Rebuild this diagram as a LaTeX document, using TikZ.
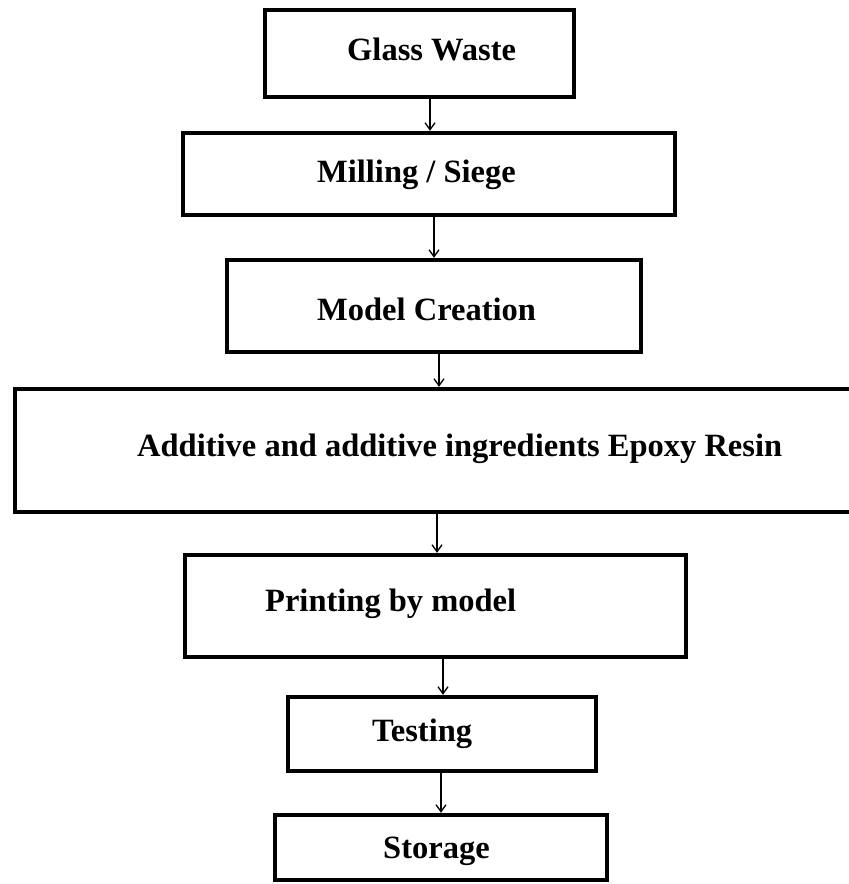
\documentclass[tikz,border=0pt]{standalone}
\usepackage{fontspec}
\setmainfont{Liberation Serif}
\usetikzlibrary{arrows.meta}
\begin{document}
\begin{tikzpicture}[x=1pt,y=-1pt,
  box/.style={draw=black,line width=4.4pt,rectangle,inner sep=0pt,fill=none},
  lbl/.style={anchor=base west,inner sep=0pt,font=\fontsize{32.5}{36}\selectfont\bfseries},
  arr/.style={line width=1.3pt,-{Straight Barb[length=7pt,width=10pt,line width=1.3pt]}}]
\useasboundingbox[fill=white] (0,0) rectangle (849,884);
\node[box,minimum width=309pt,minimum height=87pt] (b1) at (419.5,53.5) {};
\node[box,minimum width=492pt,minimum height=82pt] (b2) at (429,174) {};
\node[box,minimum width=414pt,minimum height=92pt] (b3) at (434,306) {};
\node[box,minimum width=865pt,minimum height=123pt] (b4) at (447.5,450.5) {};
\node[box,minimum width=501pt,minimum height=102pt] (b5) at (435.5,606) {};
\node[box,minimum width=308pt,minimum height=74pt] (b6) at (442,734) {};
\node[box,minimum width=332pt,minimum height=65pt] (b7) at (441,847.5) {};
\node[lbl] (t1) at (347,60) {Glass Waste};
\node[lbl] (t2) at (317,182) {Milling / Siege};
\node[lbl] (t3) at (317,320) {Model Creation};
\node[lbl] (t4) at (137,456) {Additive and additive ingredients Epoxy Resin};
\node[lbl] (t5) at (265,611) {Printing by model};
\node[lbl] (t6) at (372,741) {Testing};
\node[lbl] (t7) at (383,858) {Storage};
\coordinate (x1) at (430,0);
\coordinate (x2) at (434,0);
\coordinate (x3) at (439,0);
\coordinate (x4) at (437,0);
\coordinate (x5) at (443,0);
\coordinate (x6) at (441,0);
\draw[arr] (b1.south -| x1) -- (b2.north -| x1);
\draw[arr] (b2.south -| x2) -- (b3.north -| x2);
\draw[arr] (b3.south -| x3) -- (b4.north -| x3);
\draw[arr] (b4.south -| x4) -- (b5.north -| x4);
\draw[arr] (b5.south -| x5) -- (b6.north -| x5);
\draw[arr] (b6.south -| x6) -- (b7.north -| x6);
\end{tikzpicture}
\end{document}
